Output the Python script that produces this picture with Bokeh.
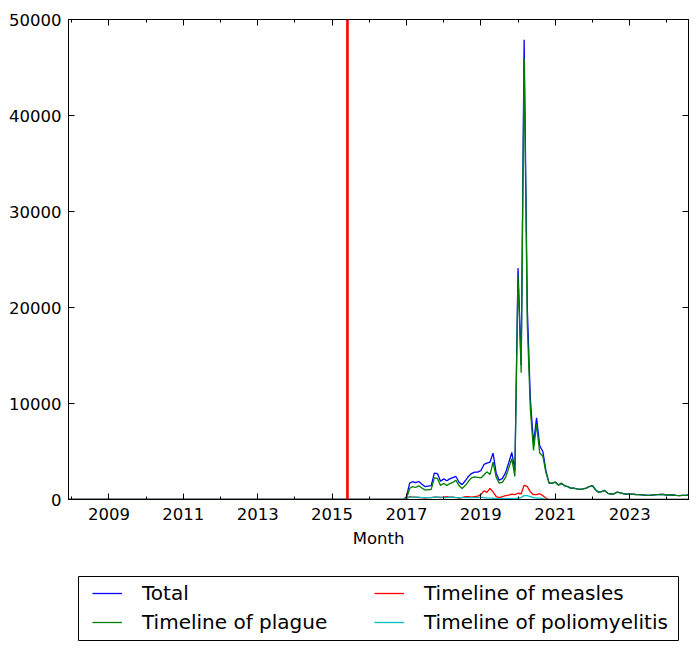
import pandas as pd
from bokeh.plotting import figure
from bokeh.layouts import column
from bokeh.models import (ColumnDataSource, Range1d, FixedTicker, DatetimeTickFormatter,
                          DatetimeAxis, LinearAxis, Span, Legend, LegendItem, BasicTickFormatter,
                          BoxAnnotation)
from bokeh.embed import file_html
from bokeh.resources import INLINE

# ---------------- data ----------------
months = pd.date_range("2007-12-01", "2024-08-01", freq="MS")
zeros_before_2017 = [0] * 109          # 2007-12 .. 2016-12

total_2017_on = [
    300, 1700, 1850, 1750, 1875, 1600, 1350, 1400, 1450, 2750, 2700, 1900,      # 2017
    2150, 1950, 2150, 2280, 2400, 1800, 1550, 1950, 2400, 2700, 2850, 2850,     # 2018
    3000, 3650, 3780, 3900, 4830, 2700, 2000, 2200, 2800, 3800, 4900, 3000,     # 2019
    24100, 14000, 47900, 20000, 10500, 5800, 8500, 5600, 5000, 3000, 1700, 1700,  # 2020
    1800, 1500, 1700, 1450, 1350, 1180, 1180, 1110, 1050, 1100, 1180, 1350,     # 2021
    1450, 1000, 760, 830, 940, 650, 550, 600, 760, 680, 600, 550,               # 2022
    550, 550, 520, 500, 480, 450, 420, 450, 480, 500, 540, 520,                 # 2023
    450, 480, 470, 420, 400, 420, 420, 480,                                     # 2024
]
plague_2017_on = [
    100, 1150, 1350, 1250, 1425, 1200, 1000, 1000, 1050, 2250, 2200, 1450,
    1700, 1450, 1650, 1780, 2000, 1450, 1150, 1450, 1900, 2250, 2350, 2300,
    2250, 2550, 2880, 2600, 3880, 2300, 1700, 1800, 2300, 3250, 4250, 2400,
    23300, 13200, 46000, 18250, 9400, 5100, 7850, 4850, 4500, 2800, 1700, 1700,
    1800, 1500, 1700, 1450, 1350, 1180, 1180, 1110, 1050, 1100, 1180, 1350,
    1450, 1000, 760, 830, 940, 650, 550, 600, 760, 680, 600, 550,
    550, 550, 520, 500, 480, 450, 420, 450, 480, 500, 540, 520,
    450, 480, 470, 420, 400, 420, 420, 480,
]
measles_2017_on = [
    100, 300, 250, 250, 200, 200, 150, 200, 200, 250, 250, 200,
    250, 300, 250, 250, 200, 150, 200, 300, 300, 250, 300, 350,
    500, 900, 750, 1150, 800, 300, 200, 300, 400, 450, 550, 500,
    650, 600, 1500, 1350, 800, 500, 500, 600, 400, 150, 0, 0,
] + [0] * 44
polio_2017_on = [
    100, 250, 250, 250, 250, 200, 200, 200, 200, 250, 250, 250,
    200, 200, 250, 250, 200, 200, 200, 200, 200, 200, 200, 200,
    250, 200, 150, 150, 150, 100, 100, 100, 100, 100, 100, 100,
    150, 200, 400, 400, 300, 200, 150, 150, 100, 50, 0, 0,
] + [0] * 44

series_names = ["Total", "Timeline of plague", "Timeline of measles", "Timeline of poliomyelitis"]
series_values = [zeros_before_2017 + total_2017_on,
                 zeros_before_2017 + plague_2017_on,
                 zeros_before_2017 + measles_2017_on,
                 zeros_before_2017 + polio_2017_on]
series_colors = ["#0000ff", "#008000", "#ff0000", "#00bfbf"]

marker_date = "2015-06-01"
x_tick_years = list(range(2009, 2024, 2))
x_minor_years = list(range(2008, 2025))
y_ticks = [0, 10000, 20000, 30000, 40000, 50000]

# ---------------- plot ----------------
def ms(d):
    return pd.Timestamp(d).value // 10**6

FONT = "DejaVu Sans"
FS = "16.5px"
LFS = "20px"

p = figure(width=698, height=575, x_axis_type="datetime", output_backend="svg",
           toolbar_location=None,
           x_range=Range1d(ms(months[0]), ms(months[-1])), y_range=Range1d(0, 50000),
           min_border_left=68, min_border_right=10, min_border_top=19, min_border_bottom=76)
p.xgrid.grid_line_color = None
p.ygrid.grid_line_color = None
p.outline_line_color = "black"
p.outline_line_width = 1
p.background_fill_color = "white"
p.border_fill_color = "white"

source = ColumnDataSource(dict(x=months, **{f"s{i}": v for i, v in enumerate(series_values)}))
for i, col in enumerate(series_colors):
    p.line("x", f"s{i}", source=source, line_color=col, line_width=1.3)

p.add_layout(Span(location=ms(marker_date), dimension="height", line_color="red", line_width=2.6))

xticker = FixedTicker(ticks=[ms(f"{y}-01-01") for y in x_tick_years],
                      minor_ticks=[ms(f"{y}-01-01") for y in x_minor_years])
yticker = FixedTicker(ticks=y_ticks)
fmt = DatetimeTickFormatter(years="%Y", months="%Y", days="%Y", hours="%Y", minutes="%Y",
                            seconds="%Y", milliseconds="%Y", microseconds="%Y")


def style(ax, hidden=False):
    ax.major_tick_in = 6
    ax.major_tick_out = 0
    ax.minor_tick_in = 3
    ax.minor_tick_out = 0
    ax.axis_line_color = "black"
    ax.major_tick_line_color = "black"
    ax.minor_tick_line_color = "black"
    ax.major_label_text_font = FONT
    if hidden:
        ax.major_label_text_font_size = "1px"
        ax.major_label_text_color = None
        ax.major_label_standoff = 0
    else:
        ax.major_label_text_font_size = FS
        ax.major_label_text_color = "black"


xa = p.xaxis[0]
xa.ticker = xticker
xa.formatter = fmt
style(xa)
xa.major_label_standoff = 8
xa.axis_label = "Month"
xa.axis_label_text_font = FONT
xa.axis_label_text_font_size = FS
xa.axis_label_text_font_style = "normal"
xa.axis_label_text_color = "black"
xa.axis_label_standoff = 6

ya = p.yaxis[0]
ya.ticker = yticker
ya.formatter = BasicTickFormatter(use_scientific=False)
style(ya)
ya.major_label_standoff = 7

top = DatetimeAxis(ticker=xticker, formatter=fmt)
style(top, hidden=True)
p.add_layout(top, "above")
right = LinearAxis(ticker=yticker)
style(right, hidden=True)
p.add_layout(right, "right")

# ---------------- legend strip (frame aligned with the plot, pixel-unit ranges) ----------------
lg = figure(width=698, height=75, output_backend="svg", toolbar_location=None,
            x_range=Range1d(68, 688), y_range=Range1d(0, 75),
            x_axis_location=None, y_axis_location=None, min_border=0)
lg.xgrid.grid_line_color = None
lg.ygrid.grid_line_color = None
lg.outline_line_color = None
lg.border_fill_color = "white"
lg.background_fill_color = "white"

items = []
for name, col in zip(series_names, series_colors):
    # key-only renderer, kept outside the visible strip
    r = lg.line(x=[0, 1], y=[-100, -100], line_color=col, line_width=1.3)
    items.append(LegendItem(label=name, renderers=[r]))

lg.add_layout(BoxAnnotation(left=78, right=678, bottom=10, top=74, fill_color=None,
                            line_color="black", line_width=1, line_alpha=1))

legend = Legend(items=items, location=(24, 16), ncols=2, orientation="vertical",
                border_line_color=None, background_fill_alpha=0,
                label_text_font=FONT, label_text_font_size=LFS, label_text_color="black",
                glyph_width=30, glyph_height=24, label_height=24, label_width=227,
                label_standoff=20, padding=0, spacing=5, margin=0)
lg.add_layout(legend)

open("out.html", "w").write(file_html(column(p, lg, spacing=0), INLINE))
